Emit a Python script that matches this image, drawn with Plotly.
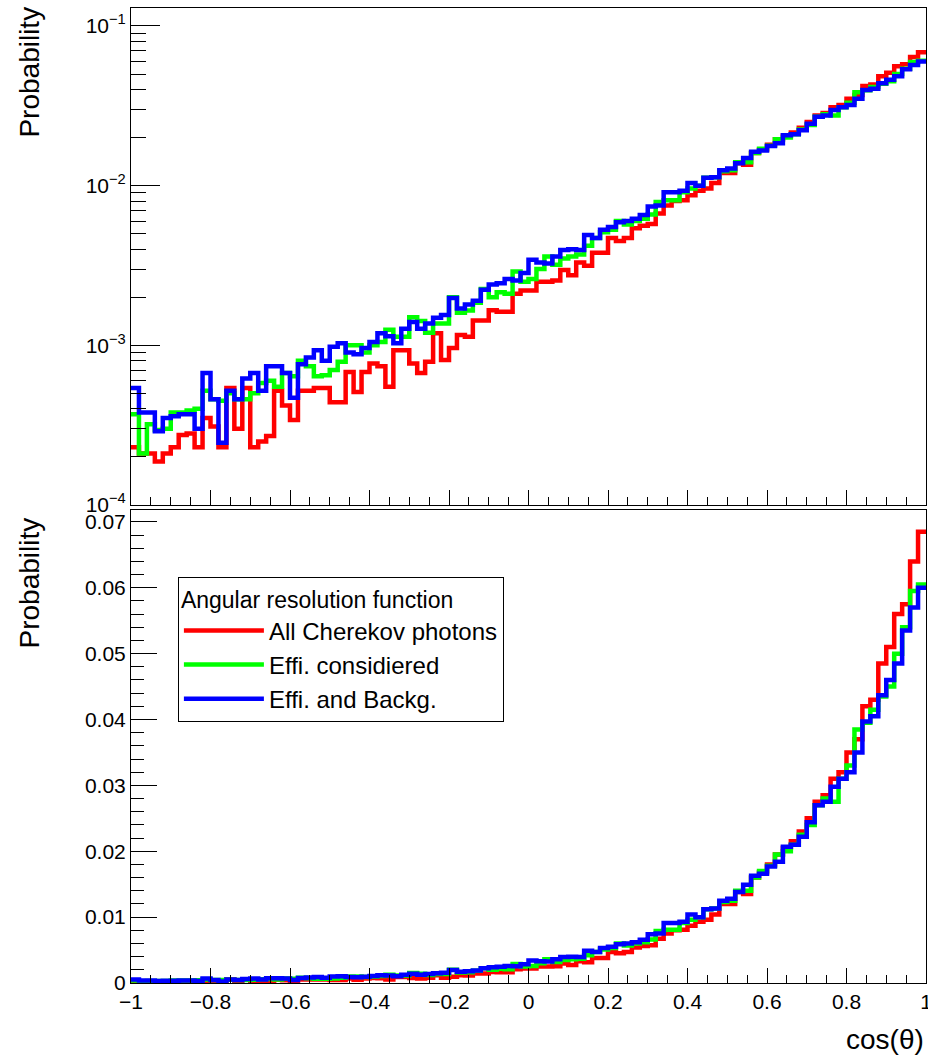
import numpy as np
import plotly.graph_objects as go

# ---- data: 100 bins of cos(theta) from -1 to 1 ----
bin_edges = np.linspace(-1, 1, 101)

all_cherenkov = [
    2.3e-4, 2.1e-4, 2.1e-4, 1.87e-4, 2.1e-4, 2.3e-4, 2.74e-4, 2.8e-4, 2.3e-4, 3.5e-4,
    3.1e-4, 2.3e-4, 5.4e-4, 3.0e-4, 5.4e-4, 2.3e-4, 2.5e-4, 2.7e-4, 5.2e-4, 4.2e-4,
    3.4e-4, 5.2e-4, 5.2e-4, 5.4e-4, 5.4e-4, 4.4e-4, 4.4e-4, 6.8e-4, 5.1e-4, 6.8e-4,
    7.7e-4, 7.4e-4, 5.5e-4, 9.3e-4, 9.3e-4, 7.7e-4, 6.7e-4, 7.9e-4, 1.19e-3, 8.1e-4,
    9.6e-4, 1.16e-3, 1.13e-3, 1.43e-3, 1.43e-3, 1.66e-3, 1.62e-3, 1.62e-3, 2.1e-3, 2.2e-3,
    2.2e-3, 2.5e-3, 2.5e-3, 2.55e-3, 2.96e-3, 2.75e-3, 3.3e-3, 3.15e-3, 3.8e-3, 3.8e-3,
    4.7e-3, 4.5e-3, 4.7e-3, 5.4e-3, 5.6e-3, 5.75e-3, 6.7e-3, 7.5e-3, 8.0e-3, 8.1e-3,
    8.7e-3, 9.3e-3, 9.6e-3, 1.04e-2, 1.2e-2, 1.2e-2, 1.38e-2, 1.35e-2, 1.6e-2, 1.68e-2,
    1.8e-2, 1.95e-2, 2.05e-2, 2.15e-2, 2.3e-2, 2.5e-2, 2.75e-2, 2.85e-2, 3.1e-2, 3.2e-2,
    3.5e-2, 3.7e-2, 4.2e-2, 4.3e-2, 4.85e-2, 5.1e-2, 5.6e-2, 5.75e-2, 6.4e-2, 6.85e-2,
]

effi_considered = [
    3.7e-4, 2.1e-4, 3.2e-4, 2.95e-4, 3.0e-4, 3.8e-4, 3.8e-4, 3.9e-4, 4.0e-4, 5.2e-4,
    4.6e-4, 4.5e-4, 5.0e-4, 4.6e-4, 4.6e-4, 5.0e-4, 5.8e-4, 6.0e-4, 5.5e-4, 6.7e-4,
    6.4e-4, 8.0e-4, 7.4e-4, 6.4e-4, 6.5e-4, 7.0e-4, 7.9e-4, 1.0e-3, 1.0e-3, 9.0e-4,
    1.0e-3, 1.05e-3, 1.25e-3, 1.13e-3, 1.13e-3, 1.5e-3, 1.42e-3, 1.2e-3, 1.37e-3, 1.37e-3,
    2.0e-3, 1.6e-3, 1.65e-3, 1.85e-3, 2.25e-3, 2.0e-3, 2.15e-3, 2.1e-3, 2.9e-3, 2.5e-3,
    2.6e-3, 3.0e-3, 3.6e-3, 3.2e-3, 3.5e-3, 3.6e-3, 3.7e-3, 4.2e-3, 4.7e-3, 5.1e-3,
    5.3e-3, 6.0e-3, 5.7e-3, 6.0e-3, 6.2e-3, 6.6e-3, 7.9e-3, 8.1e-3, 8.1e-3, 9.1e-3,
    9.6e-3, 1.0e-2, 1.12e-2, 1.13e-2, 1.23e-2, 1.25e-2, 1.4e-2, 1.4e-2, 1.6e-2, 1.7e-2,
    1.78e-2, 1.95e-2, 2.0e-2, 2.1e-2, 2.25e-2, 2.4e-2, 2.7e-2, 2.8e-2, 2.75e-2, 3.1e-2,
    3.3e-2, 3.85e-2, 3.95e-2, 4.15e-2, 4.35e-2, 4.5e-2, 5.0e-2, 5.4e-2, 5.95e-2, 6.05e-2,
]

effi_backg = [
    5.4e-4, 3.8e-4, 3.8e-4, 2.9e-4, 3.5e-4, 3.6e-4, 3.7e-4, 3.7e-4, 3.0e-4, 6.7e-4,
    4.6e-4, 2.45e-4, 5.2e-4, 4.6e-4, 6.2e-4, 6.7e-4, 5.2e-4, 7.4e-4, 7.4e-4, 6.7e-4,
    4.7e-4, 7.6e-4, 8.4e-4, 9.3e-4, 8.0e-4, 9.8e-4, 1.03e-3, 9.0e-4, 8.8e-4, 9.6e-4,
    1.05e-3, 1.19e-3, 1.14e-3, 1.03e-3, 1.27e-3, 1.4e-3, 1.27e-3, 1.37e-3, 1.49e-3, 1.55e-3,
    1.98e-3, 1.7e-3, 1.8e-3, 1.9e-3, 2.23e-3, 2.4e-3, 2.45e-3, 2.6e-3, 2.55e-3, 2.84e-3,
    3.43e-3, 3.3e-3, 3.25e-3, 3.6e-3, 3.95e-3, 4.0e-3, 3.95e-3, 4.9e-3, 4.7e-3, 5.3e-3,
    5.5e-3, 5.9e-3, 6.0e-3, 6.2e-3, 6.55e-3, 7.4e-3, 7.5e-3, 9.1e-3, 9.1e-3, 9.3e-3,
    1.04e-2, 1.0e-2, 1.12e-2, 1.13e-2, 1.25e-2, 1.28e-2, 1.38e-2, 1.49e-2, 1.63e-2, 1.66e-2,
    1.77e-2, 1.84e-2, 2.07e-2, 2.1e-2, 2.22e-2, 2.44e-2, 2.7e-2, 2.75e-2, 2.98e-2, 3.1e-2,
    3.2e-2, 3.5e-2, 3.97e-2, 4.05e-2, 4.37e-2, 4.6e-2, 4.85e-2, 5.35e-2, 5.7e-2, 6.0e-2,
]

series_names = ["All Cherekov photons", "Effi. considiered", "Effi. and Backg."]
series_colors = ["#ff0000", "#00ff00", "#0000ff"]
series_values = [all_cherenkov, effi_considered, effi_backg]

x_tick_vals = [-1, -0.8, -0.6, -0.4, -0.2, 0, 0.2, 0.4, 0.6, 0.8, 1]
x_tick_text = ["\u22121", "\u22120.8", "\u22120.6", "\u22120.4", "\u22120.2", "0", "0.2", "0.4", "0.6", "0.8", "1"]
log_tick_vals = [1e-4, 1e-3, 1e-2, 1e-1]
log_tick_text = ["10<sup>\u22124</sup>", "10<sup>\u22123</sup>", "10<sup>\u22122</sup>", "10<sup>\u22121</sup>"]
lin_tick_vals = [0, 0.01, 0.02, 0.03, 0.04, 0.05, 0.06, 0.07]
lin_tick_text = ["0", "0.01", "0.02", "0.03", "0.04", "0.05", "0.06", "0.07"]

FONT = "Liberation Sans, Arial, Helvetica, sans-serif"
TICK_SIZE = 21

fig = go.Figure()
for name, color, vals in zip(series_names, series_colors, series_values):
    xs = list(bin_edges)
    ys = list(vals) + [vals[-1]]
    # log panel (top)
    fig.add_trace(go.Scatter(x=xs, y=ys, mode="lines", line=dict(color=color, width=4.5, shape="hv"),
                             xaxis="x", yaxis="y", showlegend=False, hoverinfo="skip"))
    # linear panel (bottom)
    fig.add_trace(go.Scatter(x=xs, y=ys, mode="lines", line=dict(color=color, width=4.5, shape="hv"),
                             xaxis="x2", yaxis="y2", name=name, showlegend=True))

common_x = dict(range=[-1, 1], showline=True, linecolor="black", linewidth=1, mirror=True,
                ticks="inside", ticklen=15, tickwidth=1, tickcolor="black",
                tickvals=x_tick_vals, showgrid=False, zeroline=False, automargin=False,
                minor=dict(ticks="inside", ticklen=8, dtick=0.05, tickcolor="black", tickwidth=1, showgrid=False))

fig.update_layout(
    width=928, height=1055,
    margin=dict(l=131, r=2, t=8, b=72, autoexpand=False),
    paper_bgcolor="white", plot_bgcolor="white",
    font=dict(family=FONT, size=TICK_SIZE, color="black"),
    xaxis=dict(**common_x, anchor="y", matches="x2", showticklabels=False),
    yaxis=dict(type="log", domain=[0.4903, 1.0], range=[-4, -0.8875], anchor="x",
               showline=True, linecolor="black", linewidth=1, mirror=True, automargin=False,
               ticks="inside", ticklen=29, tickwidth=1, tickcolor="black",
               tickvals=log_tick_vals, ticktext=log_tick_text, showgrid=False, zeroline=False,
               tickfont=dict(size=TICK_SIZE),
               minor=dict(ticks="inside", ticklen=15, dtick="D1", tickcolor="black", tickwidth=1, showgrid=False)),
    xaxis2=dict(**common_x, anchor="y2", ticktext=x_tick_text, tickfont=dict(size=TICK_SIZE),
                ticklabeloverflow="allow"),
    yaxis2=dict(domain=[0.0, 0.4851], range=[0, 0.0718], anchor="x2",
                showline=True, linecolor="black", linewidth=1, mirror=True, automargin=False,
                ticks="inside", ticklen=26, tickwidth=1, tickcolor="black",
                tickvals=lin_tick_vals, ticktext=lin_tick_text, showgrid=False, zeroline=False,
                tickfont=dict(size=TICK_SIZE),
                minor=dict(ticks="inside", ticklen=13, dtick=0.002, tickcolor="black", tickwidth=1, showgrid=False)),
    legend=dict(x=0.059, y=0.416, xanchor="left", yanchor="top",
                bordercolor="black", borderwidth=1, bgcolor="white",
                title=dict(text="Angular resolution function", font=dict(size=23)),
                font=dict(size=24), itemwidth=80, tracegroupgap=0, entrywidth=290),
    annotations=[
        dict(text="Probability", textangle=-90, xref="paper", yref="paper",
             x=-0.128, y=0.934, xanchor="center", yanchor="middle", showarrow=False,
             font=dict(size=28, family=FONT)),
        dict(text="Probability", textangle=-90, xref="paper", yref="paper",
             x=-0.128, y=0.41, xanchor="center", yanchor="middle", showarrow=False,
             font=dict(size=28, family=FONT)),
        dict(text="cos(\u03b8)", xref="paper", yref="paper",
             x=1.0, y=-0.058, xanchor="right", yanchor="middle", showarrow=False,
             font=dict(size=28, family=FONT)),
    ],
)

fig.write_html("out.html")
